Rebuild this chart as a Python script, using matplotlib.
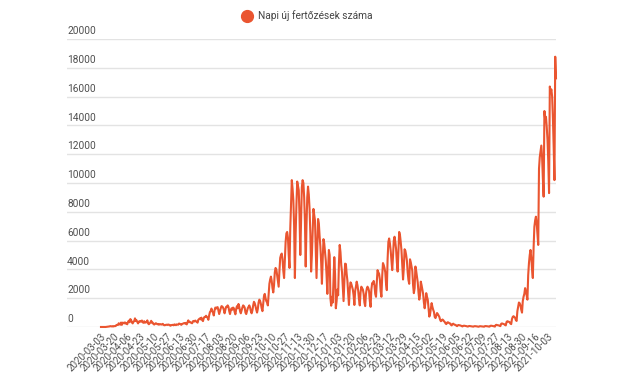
import numpy as np
import matplotlib.pyplot as plt
from matplotlib.lines import Line2D

plt.rcParams['font.family'] = 'Roboto'

# daily new infections, one row per week (Tue .. Mon), starting 2020-03-03
cases_2020_spring = [
    2, 1, 0, 2, 1, 4, 2,
    10, 15, 20, 30, 40, 60, 50,
    40, 60, 35, 60, 66, 65, 140,
    145, 140, 260, 190, 160, 310, 150,
    300, 290, 250, 320, 240, 250, 190,
    350, 440, 330, 550, 480, 320, 250,
    360, 400, 600, 430, 470, 350, 250,
    380, 360, 420, 380, 450, 330, 290,
    400, 300, 330, 330, 460, 250, 190,
    250, 320, 430, 290, 300, 200, 170,
    230, 260, 230, 190, 210, 160, 190,
    200, 170, 180, 220, 150, 120, 130,
    150, 160, 140, 170, 160, 120, 90,
    130, 140, 150, 120, 180, 160, 130,
    180, 170, 160, 240, 220, 190, 150,
    210, 230, 260, 270, 240, 290, 180,
    320, 460, 330, 360, 320, 280, 260,
    400, 420, 380, 450, 390, 370, 300,
]
cases_2020_autumn = [
    500, 550, 600, 530, 650, 480, 410,
    610, 700, 690, 780, 700, 640, 500,
    800, 1030, 1110, 1280, 1100, 1000, 800,
    1150, 1350, 1280, 1360, 1380, 1150, 900,
    1100, 1300, 1450, 1420, 1350, 1200, 950,
    1200, 1400, 1400, 1500, 1400, 1100, 900,
    1150, 1300, 1200, 1350, 1300, 1050, 880,
    1250, 1450, 1300, 1600, 1400, 1100, 950,
    1150, 1350, 1500, 1450, 1350, 1000, 900,
    1100, 1300, 1400, 1500, 1350, 1100, 950,
    1150, 1500, 1750, 1650, 1450, 1200, 1000,
    1250, 1700, 1900, 1800, 1600, 1300, 1100,
    1600, 2150, 2300, 2000, 1800, 1700, 1500,
    2300, 3000, 3300, 3500, 3200, 2700, 2400,
    2900, 3800, 4100, 4000, 3600, 3200, 2800,
    3900, 4800, 5000, 5100, 4700, 3900, 3400,
    4600, 5900, 6500, 6600, 6200, 5000, 4100,
    6800, 8600, 10200, 9600, 8800, 7000, 3400,
    6500, 8500, 10100, 9800, 9500, 7700, 5000,
    7500, 9700, 10200, 10000, 9000, 7300, 4200,
    7000, 9000, 9750, 9200, 8200, 6500, 3850,
    5000, 6500, 8200, 7800, 7400, 5500, 3400,
    5500, 7500, 7200, 6300, 5600, 4500, 3000,
    4700, 6100, 5800, 5200, 4600, 3600, 2300,
    4000, 5350, 5000, 2000, 1480, 2100, 1700,
    3300, 4850, 3700, 1300, 1800, 2600, 2200,
]
cases_2021_spring = [
    4400, 5700, 5200, 4300, 3800, 2800, 1800,
    3100, 4400, 4370, 3700, 3200, 2300, 1530,
    2600, 3100, 3000, 2800, 2600, 2200, 1530,
    2500, 2800, 3150, 2900, 2500, 1900, 1500,
    2400, 2800, 2700, 2600, 2300, 1700, 1450,
    2300, 2650, 2800, 2700, 2500, 1800, 1400,
    2600, 3050, 3000, 3200, 2900, 2300, 2100,
    3100, 3950, 3800, 3700, 3300, 2500, 2100,
    3500, 4440, 4300, 4100, 3800, 3000, 2560,
    4700, 5900, 6150, 5800, 5300, 4600, 3950,
    4900, 6000, 6270, 5900, 5400, 4500, 3850,
    5200, 6600, 6400, 5900, 5300, 4300, 3300,
    4100, 5400, 5300, 5000, 4600, 3800, 3260,
    3000, 4700, 4500, 4200, 3900, 2900, 2350,
    2700, 4200, 3900, 3500, 3100, 2400, 1900,
    2200, 3150, 2900, 2600, 2300, 1700, 1300,
    1700, 2350, 2100, 1900, 1300, 720, 900,
    1300, 1660, 1400, 1200, 1050, 700, 620,
    800, 970, 900, 800, 700, 500, 400,
    450, 520, 480, 400, 350, 250, 200,
    300, 330, 300, 260, 250, 150, 110,
    200, 230, 180, 150, 150, 90, 60,
    120, 140, 120, 110, 90, 60, 40,
    80, 90, 80, 70, 60, 40, 30,
    60, 70, 60, 50, 45, 30, 25,
    50, 60, 55, 45, 40, 25, 20,
]
cases_2021_autumn = [
    50, 55, 50, 40, 35, 25, 20,
    60, 65, 55, 50, 45, 30, 25,
    80, 90, 80, 70, 60, 40, 30,
    140, 150, 130, 120, 110, 80, 60,
    220, 250, 230, 210, 190, 140, 110,
    350, 400, 380, 360, 330, 240, 200,
    550, 700, 750, 700, 650, 480, 420,
    1100, 1400, 1700, 1650, 1500, 1200, 1000,
    1800, 2100, 2300, 2700, 2500, 2200, 1900,
    3600, 4440, 5000, 5350, 4800, 4000, 3400,
    5500, 6960, 7400, 7660, 7200, 6500, 5700,
    11000, 11800, 12200, 12600, 11800, 10300, 9050,
    15000, 14400, 14600, 13900, 13000, 11500, 9300,
    16700, 16300, 16500, 16000, 14500, 12500, 10200,
    18770, 17270,
]

date_labels = [
    '2020-03-03', '2020-03-20', '2020-04-06', '2020-04-23', '2020-05-10',
    '2020-05-27', '2020-06-13', '2020-06-30', '2020-07-17', '2020-08-03',
    '2020-08-20', '2020-09-06', '2020-09-23', '2020-10-10', '2020-10-27',
    '2020-11-13', '2020-11-30', '2020-12-17', '2021-01-03', '2021-01-20',
    '2021-02-06', '2021-02-23', '2021-03-12', '2021-03-29', '2021-04-15',
    '2021-05-02', '2021-05-19', '2021-06-05', '2021-06-22', '2021-07-09',
    '2021-07-27', '2021-08-13', '2021-08-30', '2021-09-16', '2021-10-03',
]
y_ticks = [0, 2000, 4000, 6000, 8000, 10000, 12000, 14000, 16000, 18000, 20000]
series_name = 'Napi új fertőzések száma'

RED = '#ea5530'
GRID = '#e3e3e3'
TXT = '#505050'

cases = np.array(cases_2020_spring + cases_2020_autumn + cases_2021_spring + cases_2021_autumn)
x = np.arange(len(cases))

W, H = 622, 385
fig = plt.figure(figsize=(W / 100, H / 100), dpi=100)
ax = fig.add_axes([67 / W, 1 - 327 / H, (556 - 67) / W, (327 - 39) / H])

# gridlines with labels sitting above them, inside the plot area
for v in y_ticks:
    ax.axhline(v, color=GRID, lw=1, zorder=0)
    ax.annotate(str(v), xy=(0, v), xycoords=ax.get_yaxis_transform(),
                xytext=(0, 2), textcoords='offset points',
                ha='left', va='bottom', fontsize=7.3, color=TXT)

ax.plot(x, cases, color=RED, lw=1.5, clip_on=False, solid_joinstyle='round')

ax.set_xlim(-44, len(cases) - 1)
ax.set_ylim(0, 20000)
ax.set_yticks([])
ax.set_xticks(range(0, 17 * len(date_labels), 17))
ax.set_xticklabels(date_labels, rotation=45, ha='right', va='top',
                   rotation_mode='anchor', fontsize=7, color=TXT)
ax.tick_params(axis='x', length=0, pad=3)
for s in ax.spines.values():
    s.set_visible(False)

# legend on top
fig.add_artist(Line2D([247 / W], [1 - 16 / H], marker='o', ms=8.5, color=RED,
                      linestyle='', transform=fig.transFigure))
fig.text(258 / W, 1 - 16 / H, series_name, ha='left', va='center',
         fontsize=7.3, color='#444444')

fig.savefig('out.png', dpi=100)
